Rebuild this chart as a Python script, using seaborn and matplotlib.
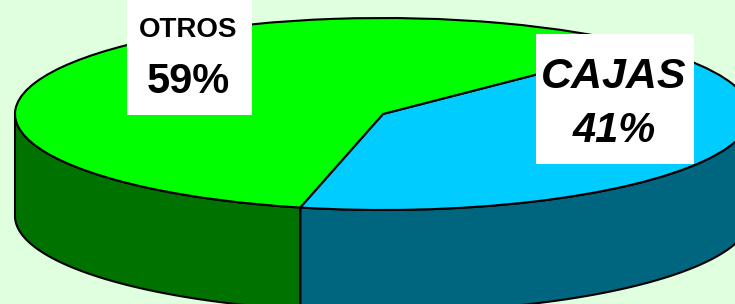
import numpy as np
import matplotlib.pyplot as plt
from matplotlib.patches import Rectangle
import seaborn as sns

labels = ["CAJAS", "OTROS"]
shares = [41, 59]
pct_labels = ["41%", "59%"]
top_colors = ["#00CCFF", "#00FF00"]
side_colors = ["#006680", "#007200"]

sns.set_theme(style="white")
plt.rcParams['font.family'] = ['Liberation Sans', 'DejaVu Sans']

W, H = 735, 304
fig = plt.figure(figsize=(W / 100, H / 100), dpi=100)
fig.patch.set_facecolor("#DFFFDF")
ax = fig.add_axes([0, 0, 1, 1])
ax.set_facecolor("none")

# ellipse of the pie top, in pixels
cx, cy, rx, ry, depth = 383, 114, 368, 96, 102
start = -103

wedges, _ = ax.pie(shares, startangle=start, colors=top_colors, counterclock=True,
                   wedgeprops=dict(edgecolor="black", linewidth=1.5, zorder=3))

# side walls of the 3d pie (only the front half is visible)
edges = start + 360 * np.cumsum([0] + shares) / sum(shares)
d = depth / ry
for i in range(len(shares)):
    t0, t1 = edges[i], edges[i + 1]
    for k in (-360, 0, 360):
        a0, a1 = max(t0, 180 + k), min(t1, 360 + k)
        if a1 > a0:
            th = np.radians(np.linspace(a0, a1, 200))
            x = np.r_[np.cos(th), np.cos(th[::-1])]
            y = np.r_[np.sin(th), np.sin(th[::-1]) - d]
            ax.fill(x, y, facecolor=side_colors[i], edgecolor="black",
                    linewidth=1.5, zorder=2)

ax.set_xlim(-cx / rx, (W - cx) / rx)
ax.set_ylim((cy - H) / ry, cy / ry)
ax.set_aspect("auto")
ax.axis("off")


def fx(px):
    return px / W


def fy(py):
    return 1 - py / H


# label boxes (left, top, right, bottom in pixels)
boxes = [(536, 34, 694, 164), (127, -2, 252, 115)]
for (l, t, r, b) in boxes:
    fig.patches.append(Rectangle((fx(l), fy(b)), fx(r) - fx(l), fy(t) - fy(b),
                                 transform=fig.transFigure, facecolor="white",
                                 edgecolor="none", zorder=5))

# CAJAS
fig.text(fx(614), fy(88), labels[0], ha="center", va="baseline", fontsize=31,
         fontweight="bold", fontstyle="italic", color="black", zorder=6)
fig.text(fx(614), fy(142), pct_labels[0], ha="center", va="baseline", fontsize=30,
         fontweight="bold", fontstyle="italic", color="black", zorder=6)
# OTROS
fig.text(fx(188), fy(37), labels[1], ha="center", va="baseline", fontsize=20,
         fontweight="bold", color="black", zorder=6)
fig.text(fx(188), fy(93), pct_labels[1], ha="center", va="baseline", fontsize=30,
         fontweight="bold", color="black", zorder=6)

fig.savefig("out.png", dpi=100, facecolor=fig.get_facecolor())
